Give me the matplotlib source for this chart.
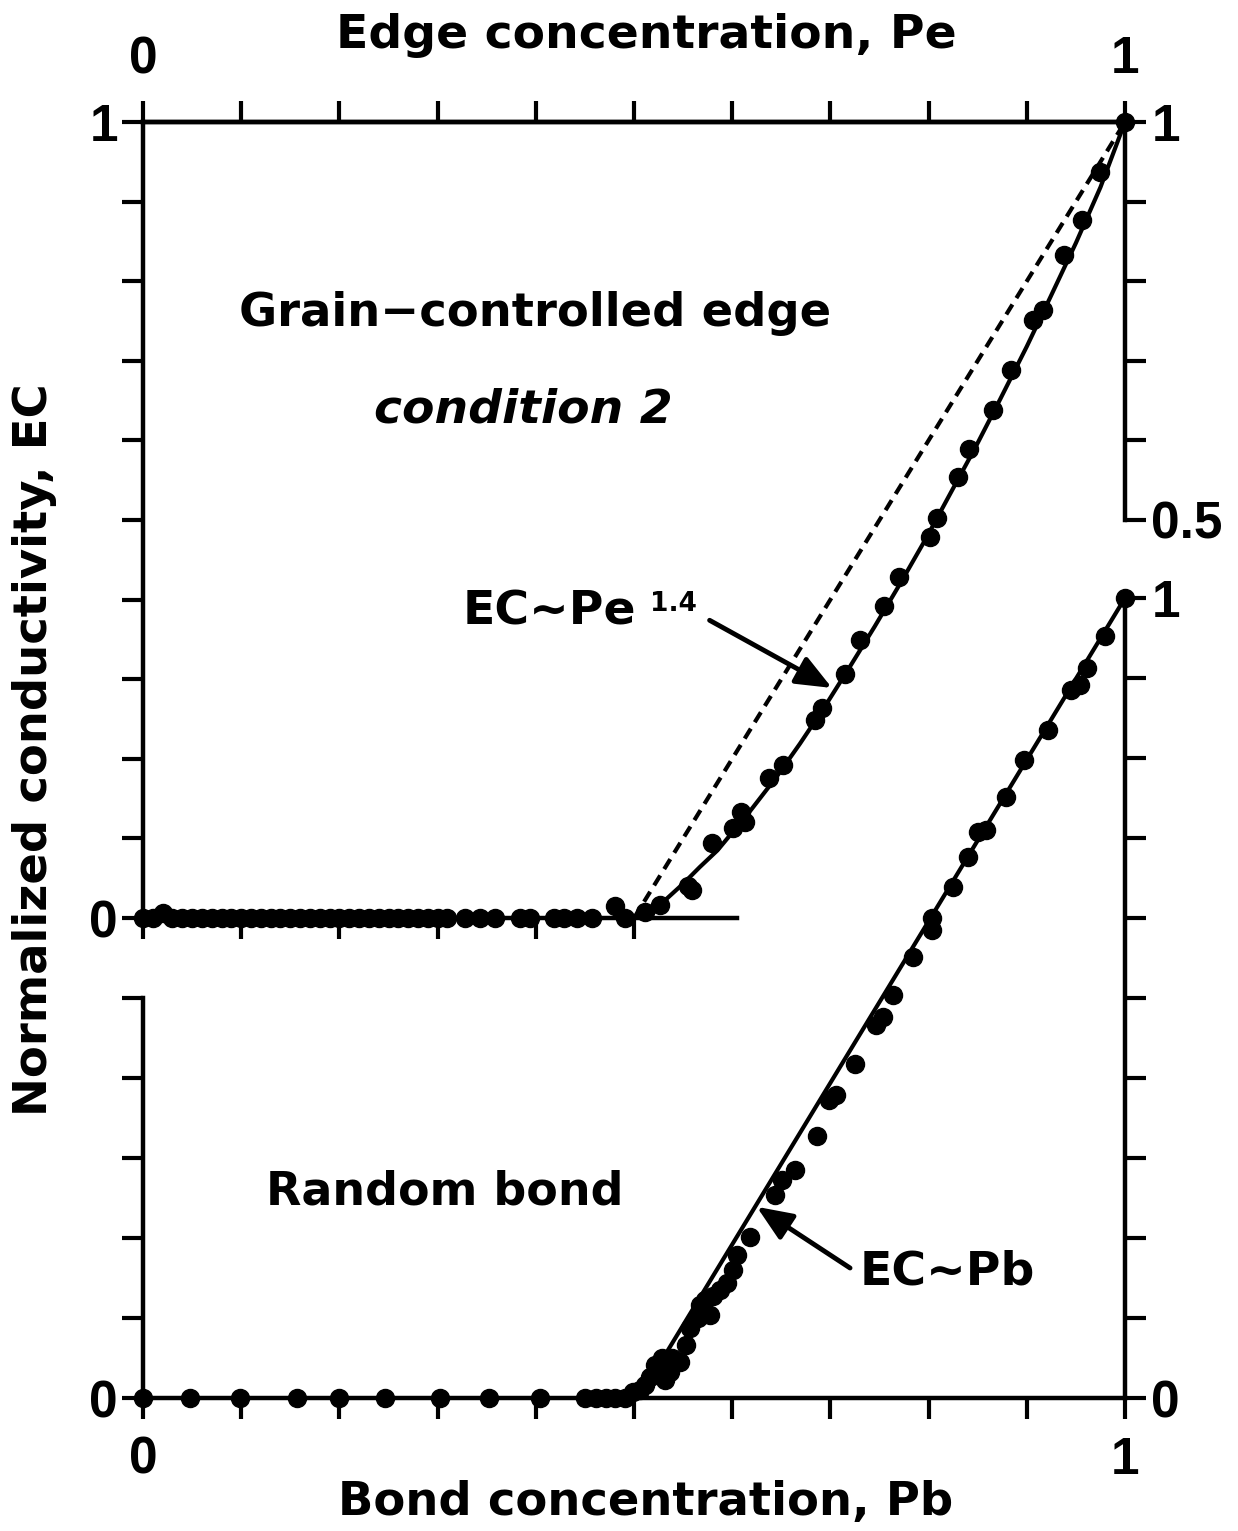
import numpy as np
import matplotlib
matplotlib.use("Agg")
import matplotlib.pyplot as plt

plt.rcParams['font.family'] = ['DejaVu Sans']
plt.rcParams['font.weight'] = 'bold'

# ---- data ----
# top panel: grain-controlled edge, condition 2 (x = Pe)
top_pe = [0.0, 0.01, 0.02, 0.03, 0.04, 0.05, 0.06, 0.07, 0.08, 0.09, 0.10,
          0.11, 0.12, 0.13, 0.14, 0.15, 0.16, 0.17, 0.18, 0.19, 0.20, 0.21,
          0.22, 0.23, 0.24, 0.25, 0.26, 0.27, 0.28, 0.29, 0.30, 0.31, 0.328,
          0.343, 0.358, 0.384, 0.394, 0.419, 0.429, 0.442, 0.457, 0.481,
          0.491, 0.511, 0.526, 0.555, 0.559, 0.579, 0.601, 0.609, 0.613,
          0.637, 0.652, 0.684, 0.691, 0.715, 0.730, 0.755, 0.770, 0.801,
          0.809, 0.830, 0.841, 0.866, 0.884, 0.906, 0.916, 0.938, 0.956,
          0.975, 1.0]
top_ec = [0.0, 0.0, 0.006, 0.0, 0.0, 0.0, 0.0, 0.0, 0.0, 0.0, 0.0,
          0.0, 0.0, 0.0, 0.0, 0.0, 0.0, 0.0, 0.0, 0.0, 0.0, 0.0,
          0.0, 0.0, 0.0, 0.0, 0.0, 0.0, 0.0, 0.0, 0.0, 0.0, 0.0,
          0.0, 0.0, 0.0, 0.0, 0.0, 0.0, 0.0, 0.0, 0.015,
          0.0, 0.008, 0.016, 0.040, 0.035, 0.094, 0.113, 0.133, 0.120,
          0.176, 0.192, 0.249, 0.264, 0.307, 0.349, 0.392, 0.428, 0.479,
          0.503, 0.554, 0.589, 0.638, 0.688, 0.751, 0.764, 0.833, 0.877,
          0.937, 1.0]

# EC ~ Pe^1.4 curve (traced)
fit_pe = [0.5, 0.526, 0.55, 0.567, 0.585, 0.618, 0.645, 0.669, 0.695, 0.72,
          0.745, 0.771, 0.797, 0.822, 0.848, 0.873, 0.9, 0.924, 0.95, 0.975,
          1.0]
fit_ec = [0.0, 0.016, 0.043, 0.064, 0.085, 0.134, 0.177, 0.219, 0.267, 0.316,
          0.366, 0.420, 0.476, 0.533, 0.592, 0.652, 0.718, 0.780, 0.848, 0.918,
          1.0]

# dashed linear reference
lin_pe = [0.5, 1.0]
lin_ec = [0.0, 1.0]

# bottom panel: random bond (x = Pb)
bot_pb = [0.0, 0.048, 0.099, 0.157, 0.200, 0.246, 0.302, 0.352, 0.404,
          0.450, 0.461, 0.471, 0.481, 0.491, 0.499, 0.506, 0.511, 0.516,
          0.521, 0.529, 0.532, 0.537, 0.539, 0.547, 0.553, 0.557, 0.565,
          0.567, 0.572, 0.577, 0.580, 0.588, 0.595, 0.601, 0.605, 0.618,
          0.644, 0.651, 0.664, 0.686, 0.699, 0.706, 0.725, 0.746, 0.754,
          0.764, 0.784, 0.803, 0.803, 0.825, 0.840, 0.850, 0.858, 0.879,
          0.897, 0.922, 0.945, 0.954, 0.961, 0.980, 1.0]
bot_ec = [0.0, 0.0, 0.0, 0.0, 0.0, 0.0, 0.0, 0.0, 0.0,
          0.0, 0.0, 0.0, 0.0, 0.0, 0.008, 0.010, 0.016, 0.026,
          0.041, 0.050, 0.022, 0.033, 0.050, 0.045, 0.066, 0.088, 0.100,
          0.116, 0.123, 0.104, 0.128, 0.135, 0.144, 0.160, 0.179, 0.201,
          0.254, 0.273, 0.285, 0.328, 0.373, 0.379, 0.418, 0.466, 0.476,
          0.504, 0.551, 0.585, 0.600, 0.639, 0.676, 0.708, 0.710, 0.751,
          0.798, 0.835, 0.885, 0.891, 0.913, 0.953, 1.0]

# EC ~ Pb line
bline_pb = [0.505, 1.0]
bline_ec = [0.0, 1.0]

xticks = np.round(np.arange(0, 1.01, 0.1), 1)

W, H = 1238, 1531
fig = plt.figure(figsize=(W / 100, H / 100), dpi=100)

tick_font = {'family': 'Liberation Sans', 'weight': 'bold', 'size': 37}
lw_sp = 3.2
tk = dict(length=15, width=3.0, direction='out')


def frac(x0, y0, x1, y1):
    return [x0 / W, 1 - y1 / H, (x1 - x0) / W, (y1 - y0) / H]


# ---------- bottom panel ----------
ax_b = fig.add_axes(frac(143, 598, 1125, 1398))
ax_b.set_xlim(0, 1)
ax_b.set_ylim(0, 1)
ax_b.patch.set_visible(False)
for s in ['top', 'right']:
    ax_b.spines[s].set_visible(False)
ax_b.spines['left'].set_bounds(0, 0.5)
for s in ['left', 'bottom']:
    ax_b.spines[s].set_linewidth(lw_sp)
ax_b.set_xticks(xticks)
ax_b.set_xticklabels(['0'] + [''] * 9 + ['1'], fontdict=tick_font)
ax_b.set_yticks(np.round(np.arange(0, 0.51, 0.1), 1))
ax_b.set_yticklabels(['0'] + [''] * 5, fontdict=tick_font)
ax_b.tick_params(axis='x', pad=12, **tk)
ax_b.tick_params(axis='y', pad=3, **tk)

ax_br = ax_b.twinx()
ax_br.set_ylim(0, 1)
for s in ['top', 'left', 'bottom']:
    ax_br.spines[s].set_visible(False)
ax_br.spines['right'].set_linewidth(lw_sp)
ax_br.set_yticks(xticks)
ax_br.set_yticklabels(['0'] + [''] * 9 + ['1'], fontdict=tick_font)
ax_br.tick_params(axis='y', pad=4, **tk)

ax_b.plot(bline_pb, bline_ec, color='black', lw=3, zorder=3)
ax_b.plot(bot_pb, bot_ec, 'o', color='black', ms=13, clip_on=False, zorder=4)

ax_b.text(0.3075, 0.2575, 'Random bond', fontsize=33, ha='center', va='center')
ax_b.text(0.73, 0.158, 'EC~Pb', fontsize=34, ha='left', va='center')
ax_b.annotate('', xy=(0.625, 0.239), xytext=(0.72, 0.1625),
              arrowprops=dict(arrowstyle='-|>,head_length=0.6,head_width=0.25',
                              lw=3.5, color='black', mutation_scale=36,
                              shrinkA=0, shrinkB=0))

# ---------- top panel ----------
ax_t = fig.add_axes(frac(143, 122, 1125, 918))
ax_t.set_xlim(0, 1)
ax_t.set_ylim(0, 1)
ax_t.patch.set_visible(False)
ax_t.spines['right'].set_visible(False)
ax_t.spines['bottom'].set_bounds(0, 0.605)
for s in ['left', 'bottom', 'top']:
    ax_t.spines[s].set_linewidth(lw_sp)
ax_t.set_xticks(np.round(np.arange(0, 0.51, 0.1), 1))
ax_t.set_xticklabels([''] * 6)
ax_t.set_yticks(xticks)
ax_t.set_yticklabels(['0'] + [''] * 9 + ['1'], fontdict=tick_font)
ax_t.tick_params(axis='x', **tk)
ax_t.tick_params(axis='y', pad=3, **tk)

ax_tt = ax_t.twiny()
ax_tt.set_xlim(0, 1)
for s in ['left', 'right', 'bottom']:
    ax_tt.spines[s].set_visible(False)
ax_tt.spines['top'].set_linewidth(lw_sp)
ax_tt.set_xticks(xticks)
ax_tt.set_xticklabels(['0'] + [''] * 9 + ['1'], fontdict=tick_font)
ax_tt.tick_params(axis='x', pad=12, **tk)

ax_tr = ax_t.twinx()
ax_tr.set_ylim(0, 1)
for s in ['top', 'left', 'bottom']:
    ax_tr.spines[s].set_visible(False)
ax_tr.spines['right'].set_bounds(0.5, 1)
ax_tr.spines['right'].set_linewidth(lw_sp)
ax_tr.set_yticks(np.round(np.arange(0.5, 1.01, 0.1), 1))
ax_tr.set_yticklabels(['0.5'] + [''] * 4 + ['1'], fontdict=tick_font)
ax_tr.tick_params(axis='y', pad=4, **tk)

ax_t.plot(lin_pe, lin_ec, color='black', lw=3, ls=(0, (2.8, 1.8)), zorder=3)
ax_t.plot(fit_pe, fit_ec, color='black', lw=3, zorder=3)
ax_t.plot(top_pe, top_ec, 'o', color='black', ms=13, clip_on=False, zorder=4)

ax_t.text(0.399, 0.76, 'Grain\u2212controlled edge', fontsize=33.5,
          ha='center', va='center')
ax_t.text(0.387, 0.638, 'condition 2', fontsize=34, style='italic',
          ha='center', va='center')
lab = ax_t.text(0.325, 0.384, 'EC~Pe', fontsize=34, ha='left', va='center')
ax_t.annotate('1.4', xy=(1.0, 1.0), xycoords=lab, xytext=(10, -1),
              textcoords='offset points', fontsize=19, ha='left', va='top')
ax_t.annotate('', xy=(0.7016, 0.289), xytext=(0.577, 0.374),
              arrowprops=dict(arrowstyle='-|>,head_length=0.6,head_width=0.25',
                              lw=3.5, color='black', mutation_scale=36,
                              shrinkA=0, shrinkB=0))

# axis titles
fig.text(646 / W, 1 - 36 / H, 'Edge concentration, Pe', fontsize=34,
         ha='center', va='center')
fig.text(646 / W, 1 - 1502 / H, 'Bond concentration, Pb', fontsize=33.5,
         ha='center', va='center')
fig.text(35 / W, 1 - 750 / H, 'Normalized conductivity, EC', fontsize=33.5,
         rotation=90, ha='center', va='center')

fig.savefig('out.png', dpi=100)
